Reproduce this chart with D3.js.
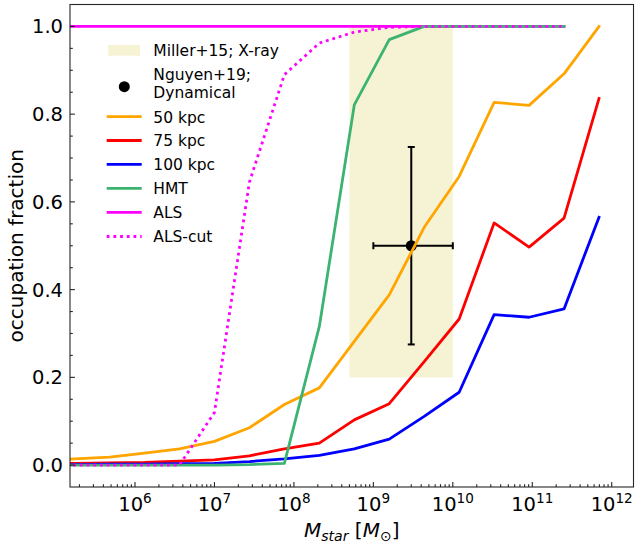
<!DOCTYPE html>
<html>
<head>
<meta charset="utf-8">
<script src="https://cdn.jsdelivr.net/npm/d3@7"></script>
<style>
  html, body { margin: 0; padding: 0; background: #fff; }
  svg { display: block; font-family: "DejaVu Sans", sans-serif; }
</style>
</head>
<body>
<svg id="chart" width="636" height="545"></svg>
<script>
// ---- data ----
const logMass = [4.80, 5.24, 5.68, 6.12, 6.56, 7.00, 7.44, 7.88, 8.32, 8.76, 9.20, 9.64, 10.08, 10.52, 10.96, 11.40, 11.84];
const kpc50  = [0.010, 0.014, 0.018, 0.027, 0.037, 0.054, 0.085, 0.138, 0.176, 0.282, 0.388, 0.542, 0.658, 0.827, 0.820, 0.892, 1.000];
const kpc75  = [0.004, 0.004, 0.005, 0.006, 0.009, 0.012, 0.021, 0.037, 0.050, 0.103, 0.140, 0.236, 0.333, 0.552, 0.497, 0.563, 0.836];
const kpc100 = [0.001, 0.001, 0.002, 0.002, 0.003, 0.004, 0.008, 0.014, 0.022, 0.037, 0.059, 0.111, 0.166, 0.343, 0.337, 0.356, 0.565];
const hmt    = [0.000, 0.000, 0.000, 0.000, 0.000, 0.000, 0.001, 0.004, 0.316, 0.821, 0.970, 1.000, 1.000, 1.000, 1.000, 1.000];
const als    = [1, 1, 1, 1, 1, 1, 1, 1, 1, 1, 1, 1, 1, 1, 1, 1];
const alsCut = [0.000, 0.000, 0.000, 0.000, 0.000, 0.120, 0.645, 0.890, 0.962, 0.987, 0.998, 1.000, 1.000, 1.000, 1.000, 1.000];

const millerX = [5e8, 1e10];
const millerY = [0.2, 1.0];
const nguyen = {x: 3e9, y: 0.5, xLo: 1e9, xHi: 1e10, yLo: 0.275, yHi: 0.725};

const xDomain = [1.52e5, 1.88e12];
const yDomain = [-0.05, 1.05];
const yMajor = [0.0, 0.2, 0.4, 0.6, 0.8, 1.0];
const xMajorExp = [6, 7, 8, 9, 10, 11, 12];

const legendLabels = ["Miller+15; X-ray", ["Nguyen+19;", "Dynamical"], "50 kpc", "75 kpc", "100 kpc", "HMT", "ALS", "ALS-cut"];

// ---- layout ----
const L = 70, T = 4.5, R = 633.5, B = 487;
const svg = d3.select("#chart");
const x = d3.scaleLog().domain(xDomain).range([L, R]);
const y = d3.scaleLinear().domain(yDomain).range([B, T]);

const lw = 2.8;
const C = {o: "#FFA500", r: "#FF0000", b: "#0000FF", g: "#3CB371", m: "#FF00FF"};

svg.append("defs").append("clipPath").attr("id", "clip")
  .append("rect").attr("x", L).attr("y", T).attr("width", R - L).attr("height", B - T);

const plot = svg.append("g").attr("clip-path", "url(#clip)");

// shaded region
plot.append("rect")
  .attr("x", x(millerX[0])).attr("width", x(millerX[1]) - x(millerX[0]))
  .attr("y", y(millerY[1])).attr("height", y(millerY[0]) - y(millerY[1]))
  .attr("fill", "palegoldenrod").attr("fill-opacity", 0.5);

// error bar point
const eb = plot.append("g").attr("stroke", "#000").attr("stroke-width", 2);
eb.append("line").attr("x1", x(nguyen.xLo)).attr("x2", x(nguyen.xHi)).attr("y1", y(nguyen.y)).attr("y2", y(nguyen.y));
eb.append("line").attr("x1", x(nguyen.x)).attr("x2", x(nguyen.x)).attr("y1", y(nguyen.yLo)).attr("y2", y(nguyen.yHi));
const cap = 3.5;
[nguyen.xLo, nguyen.xHi].forEach(v => eb.append("line").attr("x1", x(v)).attr("x2", x(v)).attr("y1", y(nguyen.y) - cap).attr("y2", y(nguyen.y) + cap));
[nguyen.yLo, nguyen.yHi].forEach(v => eb.append("line").attr("y1", y(v)).attr("y2", y(v)).attr("x1", x(nguyen.x) - cap).attr("x2", x(nguyen.x) + cap));
plot.append("circle").attr("cx", x(nguyen.x)).attr("cy", y(nguyen.y)).attr("r", 5.5).attr("fill", "#000");

const line = d3.line().x(d => x(Math.pow(10, d[0]))).y(d => y(d[1]));
function series(vals, color, dash) {
  const pts = vals.map((v, i) => [logMass[i], v]);
  const p = plot.append("path").datum(pts).attr("d", line)
    .attr("fill", "none").attr("stroke", color).attr("stroke-width", lw)
    .attr("stroke-linejoin", "round").attr("stroke-linecap", dash ? "butt" : "square");
  if (dash) p.attr("stroke-dasharray", dash);
}
series(als, C.m);
series(kpc50, C.o);
series(kpc75, C.r);
series(kpc100, C.b);
series(hmt, C.g);
series(alsCut, C.m, "2.8,3.9");

// ---- axes frame ----
svg.append("rect").attr("x", L).attr("y", T).attr("width", R - L).attr("height", B - T)
  .attr("fill", "none").attr("stroke", "#262626").attr("stroke-width", 1.1);

const ticks = svg.append("g").attr("stroke", "#262626").attr("stroke-width", 1.1);
// y ticks
const yMinor = d3.range(-0.05, 1.0501, 0.05).filter(v => !yMajor.some(m => Math.abs(m - v) < 1e-6) && v > -0.049 && v < 1.049);
yMajor.forEach(v => ticks.append("line").attr("x1", L).attr("x2", L + 4.9).attr("y1", y(v)).attr("y2", y(v)));
yMinor.forEach(v => ticks.append("line").attr("x1", L).attr("x2", L + 2.8).attr("y1", y(v)).attr("y2", y(v)));
// x ticks
xMajorExp.forEach(e => ticks.append("line").attr("x1", x(Math.pow(10, e))).attr("x2", x(Math.pow(10, e))).attr("y1", B).attr("y2", B - 4.9));
for (let e = 5; e <= 12; e++) {
  for (let k = 2; k <= 9; k++) {
    const v = k * Math.pow(10, e);
    if (v > xDomain[0] && v < xDomain[1]) {
      ticks.append("line").attr("x1", x(v)).attr("x2", x(v)).attr("y1", B).attr("y2", B - 2.8);
    }
  }
}

// tick labels
yMajor.forEach(v => svg.append("text").attr("x", L - 7).attr("y", y(v)).attr("dy", "0.36em")
  .attr("text-anchor", "end").attr("font-size", 19.5).attr("fill", "#000").text(v.toFixed(1)));
xMajorExp.forEach(e => {
  const t = svg.append("text").attr("x", x(Math.pow(10, e))).attr("y", 510.5)
    .attr("text-anchor", "middle").attr("font-size", 19.5).attr("fill", "#000");
  t.append("tspan").text("10");
  t.append("tspan").attr("font-size", 13.6).attr("dy", -7.5).text(String(e));
});

// axis labels
const xl = svg.append("text").attr("x", (L + R) / 2).attr("y", 537).attr("text-anchor", "middle")
  .attr("font-size", 20).attr("fill", "#000");
xl.append("tspan").attr("font-style", "italic").text("M");
xl.append("tspan").attr("font-style", "italic").attr("font-size", 14).attr("dy", 3.5).text("star");
xl.append("tspan").attr("dy", -3.5).text(" [");
xl.append("tspan").attr("font-style", "italic").text("M");
xl.append("tspan").attr("font-size", 14).attr("dy", 3.5).text("⊙");
xl.append("tspan").attr("dy", -3.5).text("]");

svg.append("text").attr("transform", `translate(22.5,${(T + B) / 2}) rotate(-90)`)
  .attr("text-anchor", "middle").attr("font-size", 20).attr("fill", "#000").text("occupation fraction");

// ---- legend ----
const lg = svg.append("g");
const lx0 = 106.7, lx1 = 141.7, tx = 153.3, fs = 15.5;
lg.append("rect").attr("x", 108.3).attr("y", 45).attr("width", 31.7).attr("height", 10.7)
  .attr("fill", "palegoldenrod").attr("fill-opacity", 0.5);
lg.append("text").attr("x", tx).attr("y", 50.3 + 5.8).attr("font-size", fs).text(legendLabels[0]);
lg.append("circle").attr("cx", 124.3).attr("cy", 86.7).attr("r", 5.5).attr("fill", "#000");
lg.append("text").attr("x", tx).attr("y", 79.7).attr("font-size", fs).text(legendLabels[1][0]);
lg.append("text").attr("x", tx).attr("y", 98.3).attr("font-size", fs).text(legendLabels[1][1]);
const rows = [[C.o, null], [C.r, null], [C.b, null], [C.g, null], [C.m, null], [C.m, "2.8,3.9"]];
const rowY = [116.7, 140.5, 164.4, 188.4, 212.4, 236.5];
rows.forEach((r, i) => {
  const ln = lg.append("line").attr("x1", lx0).attr("x2", lx1).attr("y1", rowY[i]).attr("y2", rowY[i])
    .attr("stroke", r[0]).attr("stroke-width", lw);
  if (r[1]) ln.attr("stroke-dasharray", r[1]);
  lg.append("text").attr("x", tx).attr("y", rowY[i] + 5.8).attr("font-size", fs).text(legendLabels[i + 2]);
});
</script>
</body>
</html>
